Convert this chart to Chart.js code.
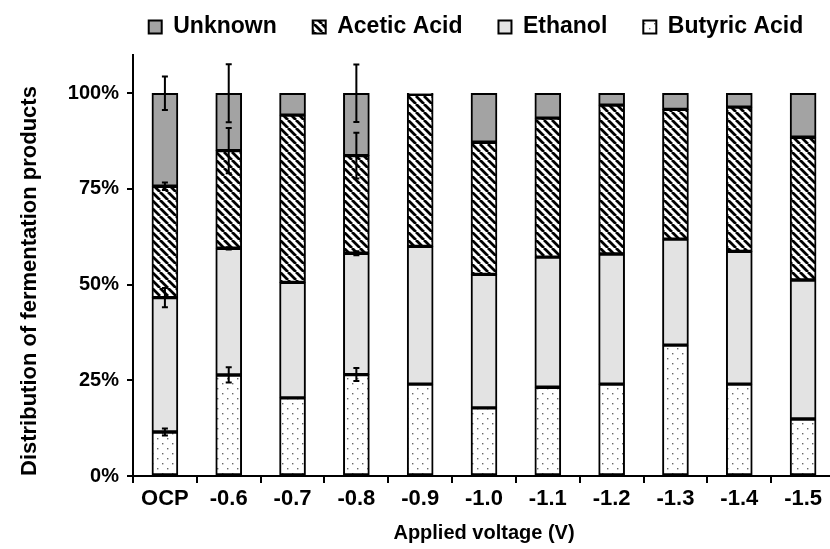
<!DOCTYPE html>
<html>
<head>
<meta charset="utf-8">
<script src="https://cdn.jsdelivr.net/npm/chart.js@4"></script>
<style>
  html, body { margin: 0; padding: 0; background: #fff; overflow: hidden; }
  #wrap { width: 840px; height: 549px; }
</style>
</head>
<body>
<div id="wrap"><canvas id="productsCtx" width="840" height="549"></canvas></div>
<script>
const voltages = ["OCP", "-0.6", "-0.7", "-0.8", "-0.9", "-1.0", "-1.1", "-1.2", "-1.3", "-1.4", "-1.5"];

// share of each product in %, stacked bottom to top
const butyric = [11.5, 26.4, 20.4, 26.5, 24.0, 17.8, 23.2, 24.0, 34.2, 24.0, 14.9];
const ethanol = [35.1, 33.1, 30.2, 31.7, 36.0, 34.9, 34.0, 34.0, 27.7, 34.7, 36.3];
const acetic  = [29.1, 25.5, 43.7, 25.5, 39.7, 34.5, 36.3, 38.9, 33.9, 37.7, 37.3];
const unknown = [24.3, 15.0, 5.7, 16.3, 0.3, 12.8, 6.5, 3.1, 4.2, 3.6, 11.5];

// error bars (+/- %) at the top of each segment, null = none
const butyricErr = [0.9, 2.0, null, 1.7, null, null, null, null, null, null, null];
const ethanolErr = [2.5, 0.3, null, 0.5, null, null, null, null, null, null, null];
const aceticErr  = [1.0, 5.9, null, 6.0, null, null, null, null, null, null, null];
const unknownErr = [4.4, 7.6, null, 7.5, null, null, null, null, null, null, null];

const yTicks = [0, 25, 50, 75, 100];

function makeTile(size, paint) {
    const c = document.createElement("canvas");
    c.width = size;
    c.height = size;
    const g = c.getContext("2d");
    paint(g, size);
    return document.createElement("canvas").getContext("2d").createPattern(c, "repeat");
}

// black/white diagonal hatch
const hatch = makeTile(8, function (g, s) {
    g.fillStyle = "#fff";
    g.fillRect(0, 0, s, s);
    g.strokeStyle = "#000";
    g.lineWidth = 2.8;
    g.beginPath();
    for (let k = -1; k <= 1; k++) {
        g.moveTo(k * s, 0);
        g.lineTo(k * s + s, s);
    }
    g.stroke();
});

// sparse grey dots
const dots = makeTile(10, function (g, s) {
    g.fillStyle = "#fff";
    g.fillRect(0, 0, s, s);
    g.fillStyle = "#666";
    g.fillRect(2, 3, 1.4, 1.4);
    g.fillRect(7, 8, 1.4, 1.4);
});

const errorBars = {
    id: "errorBars",
    afterDatasetsDraw(chart) {
        const ctx = chart.ctx;
        const y = chart.scales.y;
        const errs = [butyricErr, ethanolErr, aceticErr, unknownErr];
        ctx.save();
        ctx.strokeStyle = "#000";
        ctx.lineWidth = 2;
        chart.data.datasets.forEach(function (ds, di) {
            const meta = chart.getDatasetMeta(di);
            meta.data.forEach(function (bar, i) {
                const e = errs[di][i];
                if (e == null) return;
                let top = 0;
                for (let k = 0; k <= di; k++) top += chart.data.datasets[k].data[i];
                const x = bar.x;
                const y1 = y.getPixelForValue(top + e);
                const y2 = y.getPixelForValue(top - e);
                ctx.beginPath();
                ctx.moveTo(x, y1); ctx.lineTo(x, y2);
                ctx.moveTo(x - 3, y1); ctx.lineTo(x + 3, y1);
                ctx.moveTo(x - 3, y2); ctx.lineTo(x + 3, y2);
                ctx.stroke();
            });
        });
        ctx.restore();
    }
};

// legend: one row, taller box so the plot starts lower, drawn a bit to the left
const legendTweak = {
    id: "legendTweak",
    beforeLayout(chart) {
        const lg = chart.legend;
        if (!lg || lg._tweaked) return;
        const fit = lg.fit;
        const draw = lg.draw;
        lg.fit = function () {
            this.maxWidth = Math.max(this.maxWidth, 780);
            fit.call(this);
            this.height = 75.5;
        };
        lg.draw = function () {
            const r = this.right;
            this.right = r + 60;
            this.ctx.save();
            this.ctx.translate(-38, 0);
            draw.call(this);
            this.ctx.restore();
            this.right = r;
        };
        lg._tweaked = true;
    }
};

const fontFam = "'Liberation Sans', Arial, sans-serif";
const bold = { family: fontFam, weight: "bold", size: 20 };

function barSet(label, data, fill) {
    return {
        label: label,
        data: data,
        backgroundColor: fill,
        borderColor: "#000",
        borderWidth: 2,
        borderSkipped: false,
        barThickness: 26
    };
}

const productsChart = new Chart(document.getElementById("productsCtx"), {
    type: "bar",
    data: {
        labels: voltages,
        datasets: [
            barSet("Butyric Acid", butyric, dots),
            barSet("Ethanol", ethanol, "#e3e3e3"),
            barSet("Acetic Acid", acetic, hatch),
            barSet("Unknown", unknown, "#a3a3a3")
        ]
    },
    options: {
        responsive: false,
        animation: false,
        layout: { padding: { top: -20.5, right: 5, left: 0, bottom: 0 } },
        plugins: {
            legend: {
                position: "top",
                fullSize: false,
                reverse: true,
                labels: {
                    color: "#000",
                    font: { family: fontFam, weight: "bold", size: 23 },
                    boxWidth: 13,
                    boxHeight: 13,
                    padding: 36
                }
            },
            tooltip: { enabled: false }
        },
        scales: {
            x: {
                stacked: true,
                border: { color: "#000", width: 2 },
                grid: { display: true, drawOnChartArea: false, color: "#000", lineWidth: 2, tickLength: 7, offset: true },
                ticks: { color: "#000", font: { family: fontFam, weight: "bold", size: 22 }, padding: 3 },
                title: { display: true, text: "Applied voltage (V)", color: "#000", font: bold, padding: { top: 0 } },
                afterFit: function (s) { s.height = 73; }
            },
            y: {
                stacked: true,
                min: 0,
                max: 110,
                border: { color: "#000", width: 2 },
                grid: { display: true, drawOnChartArea: false, color: "#000", lineWidth: 2, tickLength: 6 },
                afterBuildTicks: function (s) {
                    s.ticks = yTicks.map(function (v) { return { value: v }; });
                },
                ticks: {
                    color: "#000",
                    font: bold,
                    padding: 8,
                    callback: function (v) { return v + "%"; }
                },
                title: {
                    display: true,
                    text: "Distribution of fermentation products",
                    align: "start",
                    color: "#000",
                    font: { family: fontFam, weight: "bold", size: 22 },
                    padding: { top: 17 }
                },
                afterFit: function (s) { s.width = 133; }
            }
        }
    },
    plugins: [errorBars, legendTweak]
});
</script>
</body>
</html>
